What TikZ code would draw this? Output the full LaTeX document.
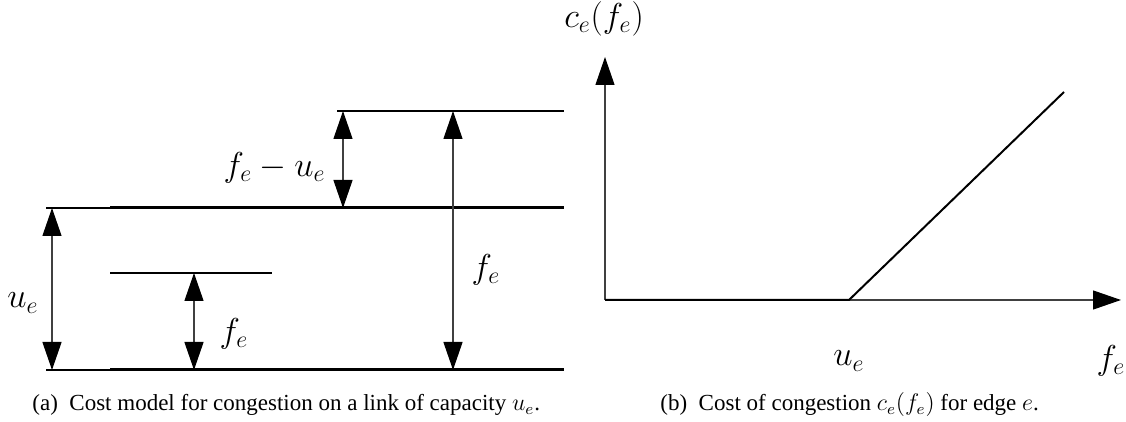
\documentclass[tikz,border=0pt]{standalone}
\usepackage{fontspec}
\setmainfont{Liberation Serif}
\usetikzlibrary{arrows.meta,positioning}

\begin{document}
\begin{tikzpicture}[x=0.5pt, y=-0.5pt,
    thickline/.style={line width=1.5pt},
    thinline/.style={line width=0.6pt},
    dimarrow/.style={line width=0.6pt, black!75, {Triangle[length=14pt, width=9.5pt, color=black]}-{Triangle[length=14pt, width=9.5pt, color=black]}},
    axisarrow/.style={line width=0.6pt, black!75, -{Triangle[length=14pt, width=9.5pt, color=black]}},
    lbl/.style={font=\fontsize{16.5}{19}\selectfont, inner sep=0pt},
    capt/.style={font=\fontsize{11.5}{14}\selectfont, anchor=base west, inner sep=0pt}
]
    \useasboundingbox (0,0) rectangle (1126,422);

    % (a) levels
    \coordinate (topL) at (337,111);  \coordinate (topR) at (564,111);
    \coordinate (midX) at (46,208);   \coordinate (midL) at (110,208);  \coordinate (midR) at (564,208);
    \coordinate (smlL) at (110,273);  \coordinate (smlR) at (272,273);
    \coordinate (botX) at (46,370);   \coordinate (botL) at (110,370);  \coordinate (botR) at (564,370);

    \draw[thinline] (topL) -- (topR);
    \draw[thinline] (midX) -- (midL);
    \draw[thickline] (midL) -- (midR);
    \draw[thinline] (smlL) -- (smlR);
    \draw[thinline] (botX) -- (botL);
    \draw[thickline] (botL) -- (botR);

    % (a) dimensions
    \draw[dimarrow] (midX -| 52,0) -- (botX -| 52,0);
    \draw[dimarrow] (smlL -| 194,0) -- (botL -| 194,0);
    \draw[dimarrow] (topL -| 343,0) -- (midR -| 343,0);
    \draw[dimarrow] (topR -| 453,0) -- (botR -| 453,0);

    \node[lbl] (ue) at (23,303) {$u_e$};
    \node[lbl] (fs) at (234,334) {$f_e$};
    \node[lbl, anchor=east] (fu) at (326,168) {$f_e - u_e$};
    \node[lbl] (fb) at (486,270) {$f_e$};

    % (b) cost curve
    \coordinate (orig) at (605,300);
    \coordinate (ytip) at (605,57);
    \coordinate (xtip) at (1121,300);
    \coordinate (kink) at (849,300);
    \coordinate (cend) at (1064,92);
    \draw[axisarrow] (orig) -- (ytip);
    \draw[axisarrow] (orig) -- (xtip);
    \draw[line width=1pt] (orig) -- (kink) -- (cend);

    \node[lbl] (cy) at (604,19) {$c_e(f_e)$};
    \node[lbl] (cu) at (849,361) {$u_e$};
    \node[lbl] (cf) at (1111,361) {$f_e$};

    % captions
    \node[capt] (capa) at (32,411) {(a)\hspace{0.5em}Cost model for congestion on a link of capacity $u_e$.};
    \node[capt] (capb) at (660,411) {(b)\hspace{0.5em}Cost of congestion $c_e(f_e)$ for edge $e$.};
\end{tikzpicture}
\end{document}
